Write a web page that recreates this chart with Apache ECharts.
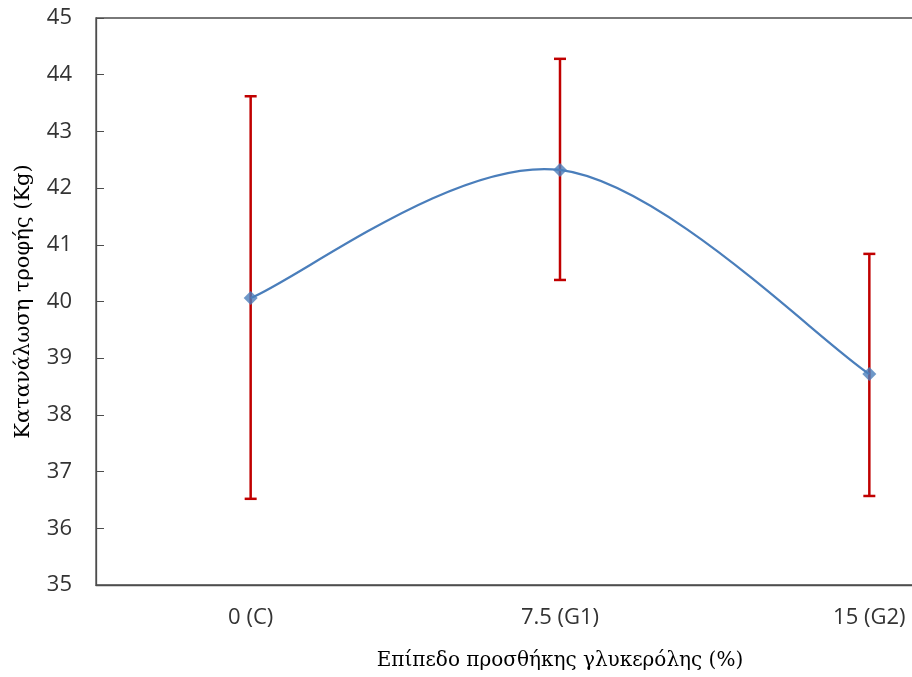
<!DOCTYPE html>
<html>
<head>
<meta charset="utf-8">
<script src="https://cdn.jsdelivr.net/npm/echarts@6/dist/echarts.min.js"></script>
<style>
  html, body { margin: 0; padding: 0; background: #fff; }
  #chart { width: 912px; height: 677px; }
</style>
</head>
<body>
<div id="chart"></div>
<script>
// Feed consumption per glycerol inclusion level, with error bars
const categories = ['0 (C)', '7.5 (G1)', '15 (G2)'];
const meanValues = [40.06, 42.32, 38.72];
const upperValues = [43.62, 44.28, 40.84];
const lowerValues = [36.52, 40.38, 36.57];
const yTicks = { min: 35, max: 45, interval: 1 };

const errorData = categories.map((c, i) => [i, lowerValues[i], upperValues[i]]);
const curveData = meanValues.map((v, i) => [i, v]);

const LINE_COLOR = '#4a7ebb';

const chart = echarts.init(document.getElementById('chart'));
chart.setOption({
  animation: false,
  backgroundColor: '#ffffff',
  grid: {
    left: 96, top: 18, width: 928, height: 567,
    outerBoundsMode: 'none',
    containLabel: false,
    show: true, borderColor: '#4d4d4d', borderWidth: 1.3
  },
  xAxis: {
    type: 'category',
    data: categories,
    boundaryGap: true,
    name: 'Επίπεδο προσθήκης γλυκερόλης (%)',
    nameLocation: 'middle',
    nameGap: 66,
    nameTextStyle: { fontFamily: 'DejaVu Serif', fontSize: 20, color: '#000' },
    axisLine: { lineStyle: { color: '#4d4d4d', width: 1.3 } },
    axisTick: { show: false },
    axisLabel: {
      margin: 22,
      fontFamily: 'Open Sans', fontSize: 22, color: '#333'
    },
    splitLine: { show: false }
  },
  yAxis: {
    type: 'value',
    min: yTicks.min, max: yTicks.max, interval: yTicks.interval,
    name: 'Κατανάλωση τροφής (Kg)',
    nameLocation: 'middle',
    nameGap: 62,
    nameTextStyle: { fontFamily: 'DejaVu Serif', fontSize: 21, color: '#000' },
    axisLine: { show: true, lineStyle: { color: '#4d4d4d', width: 1.3 } },
    axisTick: { show: true, inside: true, length: 8, lineStyle: { color: '#4d4d4d' } },
    axisLabel: {
      margin: 24,
      fontFamily: 'Open Sans', fontSize: 22, color: '#333'
    },
    splitLine: { show: false }
  },
  series: [
    {
      // vertical error bars with end caps
      type: 'custom',
      name: 'error',
      z: 2,
      data: errorData,
      renderItem: function (params, api) {
        const x = api.value(0);
        const lo = api.coord([x, api.value(1)]);
        const hi = api.coord([x, api.value(2)]);
        const half = 6;
        const style = { stroke: '#c00000', lineWidth: 2.5 };
        return {
          type: 'group',
          children: [
            { type: 'line', shape: { x1: hi[0], y1: hi[1], x2: lo[0], y2: lo[1] }, style: style },
            { type: 'line', shape: { x1: hi[0] - half, y1: hi[1], x2: hi[0] + half, y2: hi[1] }, style: style },
            { type: 'line', shape: { x1: lo[0] - half, y1: lo[1], x2: lo[0] + half, y2: lo[1] }, style: style }
          ]
        };
      }
    },
    {
      // smoothed connecting curve (Catmull-Rom style Bezier segments)
      type: 'custom',
      name: 'curve',
      z: 3,
      data: curveData,
      renderItem: function (params, api) {
        const i = params.dataIndex;
        const n = meanValues.length;
        if (i >= n - 1) return null;
        const pt = k => api.coord([Math.max(0, Math.min(n - 1, k)), meanValues[Math.max(0, Math.min(n - 1, k))]]);
        const p0 = pt(i - 1), p1 = pt(i), p2 = pt(i + 1), p3 = pt(i + 2);
        const t = 1 / 6;
        return {
          type: 'bezierCurve',
          shape: {
            x1: p1[0], y1: p1[1],
            cpx1: p1[0] + (p2[0] - p0[0]) * t, cpy1: p1[1] + (p2[1] - p0[1]) * t,
            cpx2: p2[0] - (p3[0] - p1[0]) * t, cpy2: p2[1] - (p3[1] - p1[1]) * t,
            x2: p2[0], y2: p2[1]
          },
          style: { stroke: LINE_COLOR, lineWidth: 2.2, fill: null }
        };
      }
    },
    {
      type: 'scatter',
      name: 'mean',
      z: 4,
      data: meanValues,
      symbol: 'diamond',
      symbolSize: 14,
      itemStyle: { color: LINE_COLOR }
    }
  ]
});
</script>
</body>
</html>
